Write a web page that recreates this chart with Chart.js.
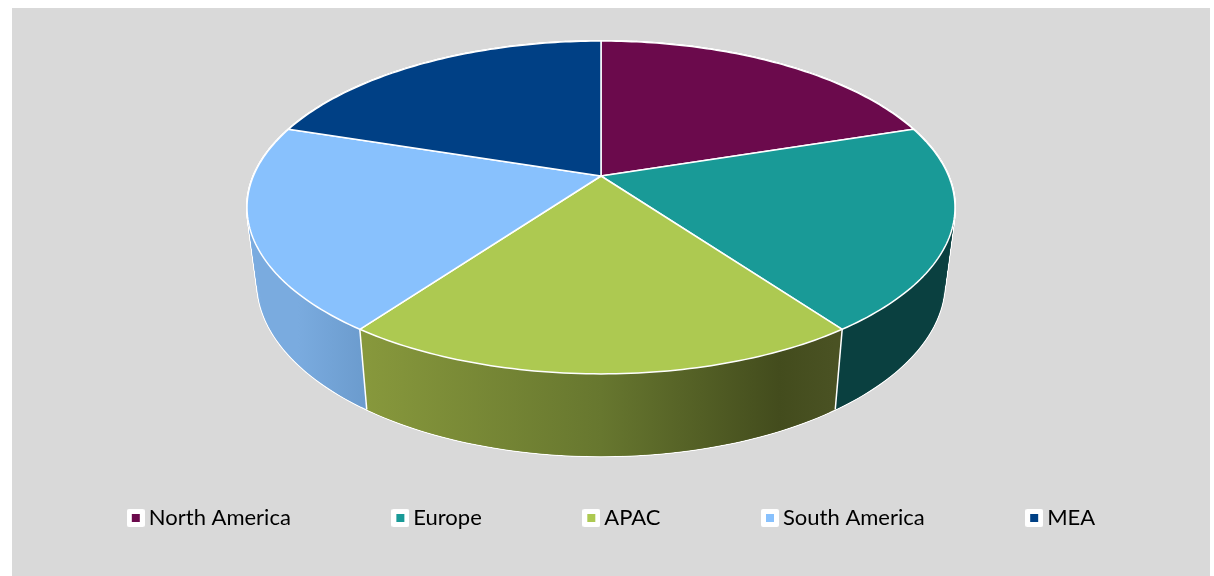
<!DOCTYPE html>
<html>
<head>
<meta charset="utf-8">
<title>Regional share</title>
<script src="https://cdn.jsdelivr.net/npm/chart.js@4/dist/chart.umd.js"></script>
<style>
    html, body { margin: 0; background: #fff; }
    #chart { position: absolute; left: 12px; top: 8px; background: #d9d9d9; }
</style>
</head>
<body>
<canvas id="chart" width="1198" height="568"></canvas>
<script>
// equal slices
const regions = ['North America', 'Europe', 'APAC', 'South America', 'MEA'];
const shares = [20, 20, 20, 20, 20];
const topColors = ['#6b0a4c', '#199a97', '#adc951', '#88c1fd', '#004085'];
// [offset, colour] along the width of each slice's side
const wallStops = [
    [[0, '#3f0630'], [1, '#3f0630']],
    [[0, '#0a4040'], [1, '#0a4040']],
    [[0, '#87983c'], [0.5, '#67772f'], [0.88, '#434c1d'], [1, '#4a5223']],
    [[0, '#7aabdf'], [1, '#6b9bcd']],
    [[0, '#002a58'], [1, '#002a58']],
];

// perspective of the pie: circle of radius 1 onto the canvas
const k = -0.189;
const topRim = { x: 589, y: 168, rx: 347.6, ry: 160.5 };
const bottomRim = { x: 589, y: 241, rx: 337.6, ry: 168 };
const STEP = Math.PI / 180;

function project(rim, angle, r = 1) {
    const u = Math.cos(angle) * r;
    const v = Math.sin(angle) * r;
    const w = 1 + k * v;
    return { x: rim.x + rim.rx * u / w, y: rim.y + rim.ry * v / w };
}

function anglesBetween(start, end) {
    const out = [];
    for (let a = start; a < end - 1e-6; a += STEP) out.push(a);
    out.push(end);
    return out;
}

function legendMark(color) {
    const c = document.createElement('canvas');
    c.width = 18;
    c.height = 18;
    const g = c.getContext('2d');
    g.fillStyle = '#fff';
    g.beginPath();
    g.roundRect(0, 0, 18, 18, 2);
    g.fill();
    g.fillStyle = color;
    g.fillRect(5, 5, 8, 8);
    return c;
}

function stripPath(ctx, a, b) {
    const p = [project(topRim, a), project(topRim, b), project(bottomRim, b), project(bottomRim, a)];
    ctx.beginPath();
    p.forEach((q) => ctx.lineTo(q.x, q.y));
    ctx.closePath();
}

// each strip runs over the next one, otherwise the white shows through the joins
function eachStrip(start, end, fn) {
    const angles = anglesBetween(start, end);
    for (let n = 0; n < angles.length - 1; n++) {
        fn(angles[n], angles[Math.min(n + 2, angles.length - 1)]);
    }
}

const pie3d = {
    id: 'pie3d',
    // the library works out the angles, this only changes how a slice is painted
    beforeDatasetDraw(chart) {
        const ctx = chart.ctx;
        const arcs = chart.getDatasetMeta(0).data;
        ctx.save();
        ctx.lineJoin = 'round';

        // white line round the side of the pie
        ctx.strokeStyle = '#fff';
        ctx.fillStyle = '#fff';
        ctx.lineWidth = 2;
        eachStrip(0, Math.PI * 2, (a, b) => {
            stripPath(ctx, a, b);
            ctx.fill();
            ctx.stroke();
        });

        // slice sides
        arcs.forEach((arc, i) => {
            const left = project(bottomRim, arc.startAngle);
            const right = project(bottomRim, arc.endAngle);
            const fill = ctx.createLinearGradient(Math.min(left.x, right.x), 0, Math.max(left.x, right.x), 0);
            wallStops[i].forEach(([at, c]) => fill.addColorStop(at, c));
            ctx.fillStyle = fill;
            eachStrip(arc.startAngle, arc.endAngle, (a, b) => {
                stripPath(ctx, a, b);
                ctx.fill();
            });
        });

        // seams between the sides
        ctx.strokeStyle = '#fff';
        ctx.lineWidth = 1.5;
        arcs.forEach((arc) => {
            const a = project(topRim, arc.startAngle);
            const b = project(bottomRim, arc.startAngle);
            ctx.beginPath();
            ctx.moveTo(a.x, a.y);
            ctx.lineTo(b.x, b.y);
            ctx.stroke();
        });

        // top face
        arcs.forEach((arc, i) => {
            const centre = project(topRim, 0, 0);
            ctx.beginPath();
            ctx.moveTo(centre.x, centre.y);
            anglesBetween(arc.startAngle, arc.endAngle).forEach((a) => {
                const p = project(topRim, a);
                ctx.lineTo(p.x, p.y);
            });
            ctx.closePath();
            ctx.fillStyle = topColors[i];
            ctx.fill();
            ctx.stroke();
        });
        ctx.restore();
        return false;
    },
};

new Chart(document.getElementById('chart'), {
    type: 'pie',
    plugins: [pie3d],
    data: {
        labels: regions,
        datasets: [
            {
                data: shares,
                backgroundColor: topColors,
            },
        ],
    },
    options: {
        responsive: false,
        animation: false,
        layout: { padding: { bottom: 37, left: 7 } },
        plugins: {
            tooltip: { enabled: false },
            legend: {
                position: 'bottom',
                labels: {
                    usePointStyle: true,
                    pointStyleWidth: 4,
                    padding: 107.5,
                    color: '#0d0d0d',
                    font: { family: 'Lato', size: 22 },
                    generateLabels: () => regions.map((name, i) => ({
                        text: name,
                        fillStyle: topColors[i],
                        strokeStyle: topColors[i],
                        lineWidth: 0,
                        pointStyle: legendMark(topColors[i]),
                        index: i,
                    })),
                },
            },
        },
    },
});
</script>
</body>
</html>
